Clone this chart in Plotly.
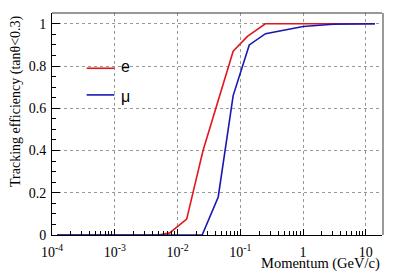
import plotly.graph_objects as go

# Data
momentum_e = [1.2e-4, 0.005, 0.0075, 0.014, 0.0255, 0.042, 0.077, 0.13, 0.25, 1.0, 14.0]
eff_e = [0.0, 0.0, 0.01, 0.075, 0.40, 0.61, 0.87, 0.94, 1.0, 1.0, 1.0]

momentum_mu = [1.2e-4, 0.0247, 0.0445, 0.077, 0.139, 0.253, 1.0, 3.0, 14.0]
eff_mu = [0.0, 0.0, 0.18, 0.66, 0.90, 0.953, 0.987, 0.998, 1.0]

x_tickvals = [1e-4, 1e-3, 1e-2, 1e-1, 1, 10]
x_ticktext = ["10<sup>-4</sup>", "10<sup>-3</sup>", "10<sup>-2</sup>", "10<sup>-1</sup>", "1", "10"]
y_tickvals = [0, 0.2, 0.4, 0.6, 0.8, 1.0]
y_ticktext = ["0", "0.2", "0.4", "0.6", "0.8", "1"]

RED = "#e3161c"
BLUE = "#1818b0"
SERIF = "Liberation Serif"

fig = go.Figure()
fig.add_trace(go.Scatter(x=momentum_e, y=eff_e, mode="lines", name="e",
                         line=dict(color=RED, width=1.6), showlegend=False))
fig.add_trace(go.Scatter(x=momentum_mu, y=eff_mu, mode="lines", name="μ",
                         line=dict(color=BLUE, width=1.6), showlegend=False))

fig.update_layout(
    width=402, height=273,
    margin=dict(l=52, r=20, t=13, b=38, autoexpand=False),
    paper_bgcolor="white", plot_bgcolor="white",
    font=dict(family=SERIF, size=14, color="black"),
)

fig.update_xaxes(
    type="log", range=[-4, 1.258], automargin=False,
    tickvals=x_tickvals, ticktext=x_ticktext,
    ticks="inside", ticklen=6, tickcolor="black", tickwidth=1,
    showgrid=True, gridcolor="#999999", griddash="dot", gridwidth=1,
    showline=True, linecolor="black", linewidth=1,
    tickfont=dict(family=SERIF, size=14),
    minor=dict(ticks="inside", ticklen=4, tickcolor="black", dtick="D1", showgrid=False),
    zeroline=False, ticklabelstandoff=4,
)
fig.update_yaxes(
    range=[0, 1.051], automargin=False,
    tickvals=y_tickvals, ticktext=y_ticktext,
    ticks="inside", ticklen=8, tickcolor="black", tickwidth=1,
    showgrid=True, gridcolor="#999999", griddash="dot", gridwidth=1,
    showline=True, linecolor="black", linewidth=1,
    tickfont=dict(family=SERIF, size=14),
    minor=dict(ticks="inside", ticklen=4, tickcolor="black", dtick=0.05, showgrid=False),
    zeroline=False, ticklabelstandoff=2,
)

# frame top and right edge
fig.add_shape(type="line", xref="paper", yref="paper", x0=0, x1=1, y0=1, y1=1,
              line=dict(color="#333333", width=1))
fig.add_shape(type="line", xref="paper", yref="paper", x0=1.003, x1=1.003, y0=0, y1=1,
              line=dict(color="#999999", width=2))

# legend
fig.add_shape(type="line", xref="paper", yref="paper", x0=0.105, x1=0.189, y0=0.751, y1=0.751,
              line=dict(color=RED, width=1.6))
fig.add_shape(type="line", xref="paper", yref="paper", x0=0.105, x1=0.189, y0=0.631, y1=0.631,
              line=dict(color=BLUE, width=1.6))
fig.add_annotation(xref="paper", yref="paper", x=0.203, y=0.757, text="e", showarrow=False,
                   xanchor="left", yanchor="middle", font=dict(family="Liberation Sans", size=16))
fig.add_annotation(xref="paper", yref="paper", x=0.203, y=0.625, text="μ", showarrow=False,
                   xanchor="left", yanchor="middle", font=dict(family="Liberation Sans", size=16))

# axis titles
fig.add_annotation(xref="paper", yref="paper", x=1, y=0, yshift=-28, text="Momentum (GeV/c)",
                   showarrow=False, xanchor="right", yanchor="middle",
                   font=dict(family=SERIF, size=14.5))
fig.add_annotation(xref="paper", yref="paper", x=0, xshift=-36, y=1, text="Tracking efficiency (tanθ<0.3)",
                   showarrow=False, xanchor="center", yanchor="top", textangle=-90,
                   font=dict(family=SERIF, size=14))

fig.write_html("out.html", config={"displayModeBar": False},
               post_script="document.body.style.margin='0';document.body.style.padding='0';")
